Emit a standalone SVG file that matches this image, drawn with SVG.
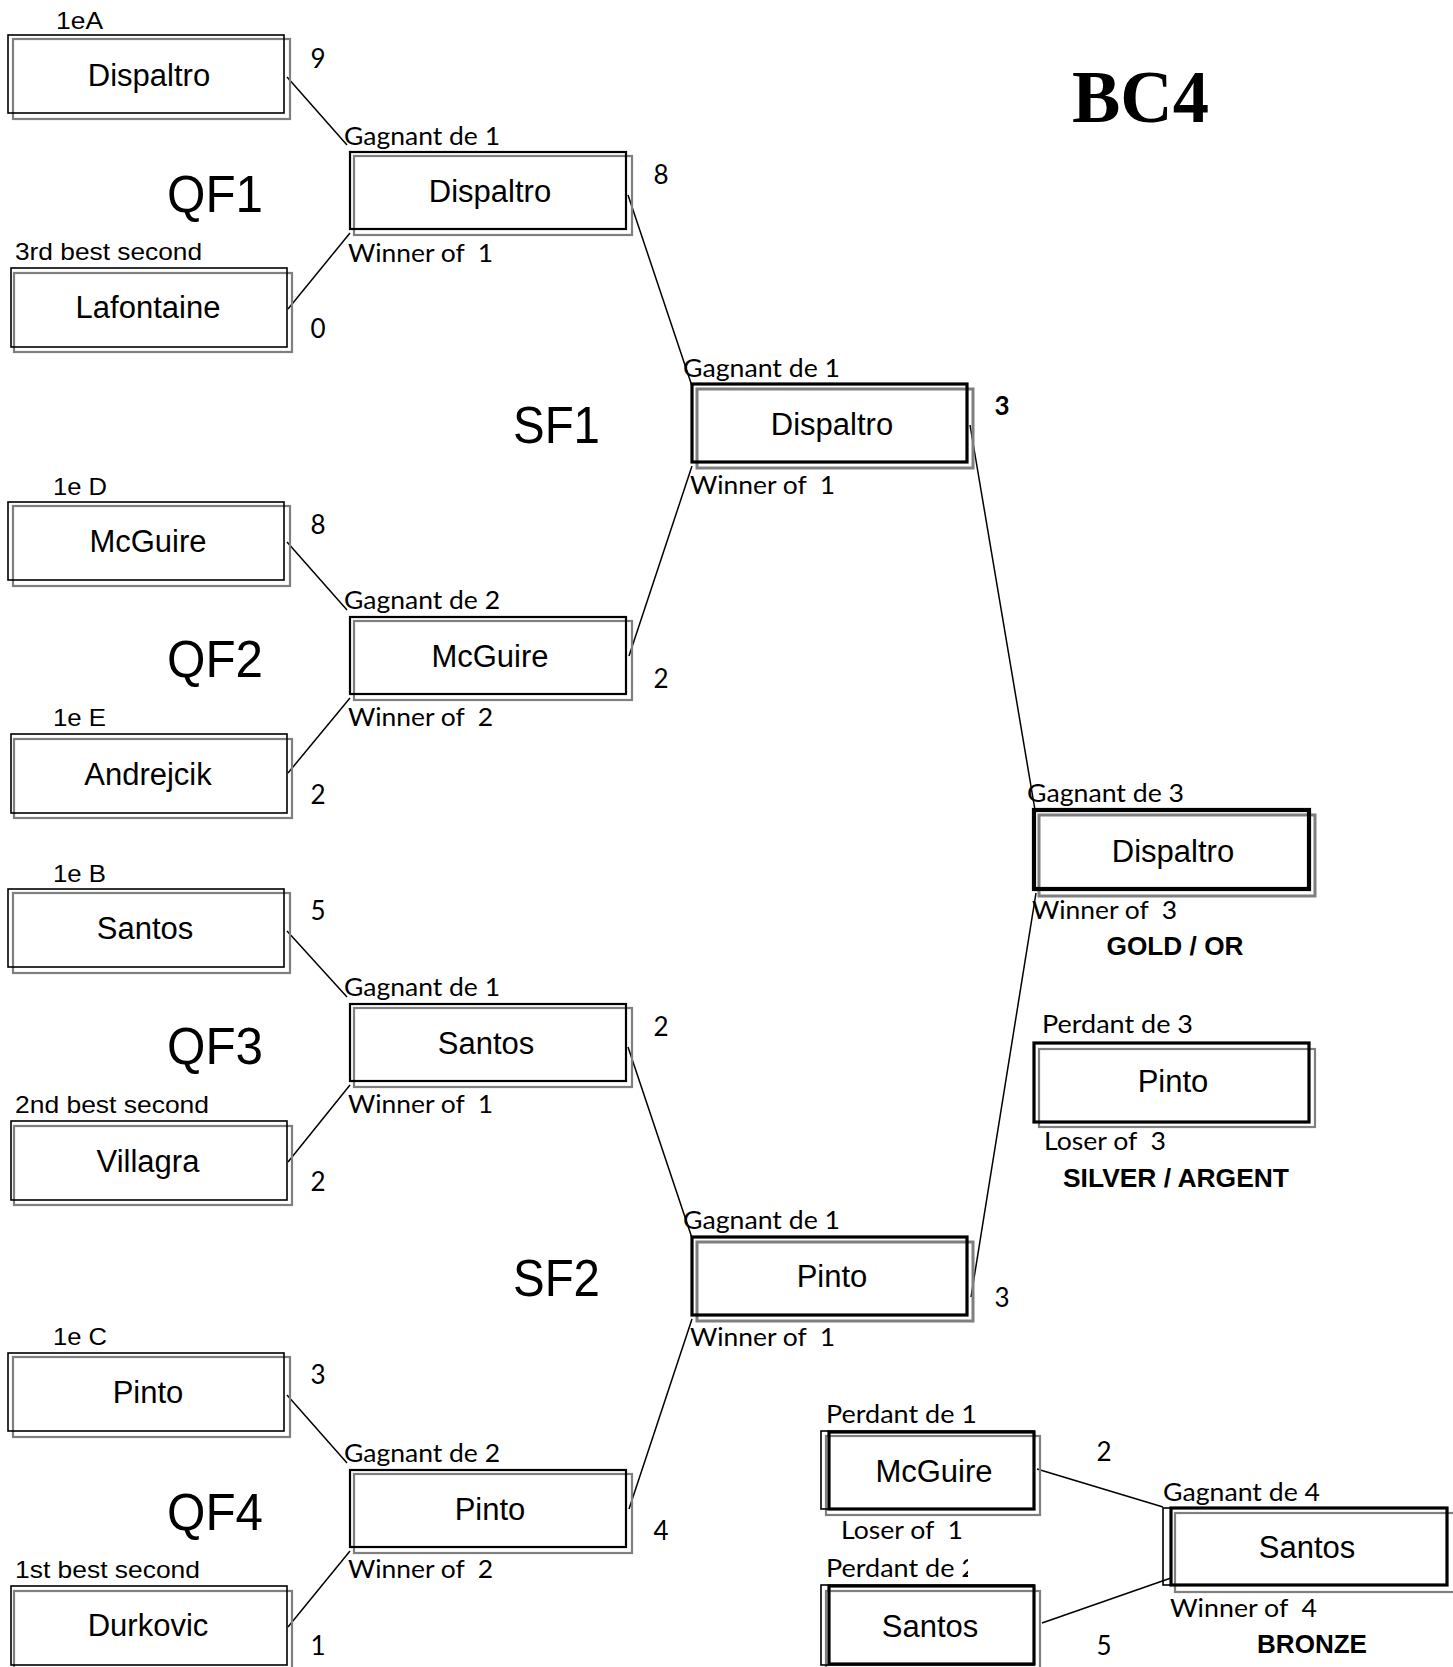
<svg xmlns="http://www.w3.org/2000/svg" width="1453" height="1667" viewBox="0 0 1453 1667">
<style>
.bk{fill:none;stroke:#000;stroke-width:1.6}
.bk2{fill:none;stroke:#000;stroke-width:2.2}
.bk3{fill:none;stroke:#000;stroke-width:3.2}
.bk4{fill:none;stroke:#000;stroke-width:4.2}
.gr{fill:none;stroke:#7f7f7f;stroke-width:2.2}
.gr3{fill:none;stroke:#7f7f7f;stroke-width:3}
.nm{font-family:"Liberation Sans",Arial,sans-serif;font-size:31px;text-anchor:middle;fill:#000}
.lb{font-family:"Liberation Sans",Arial,sans-serif;font-size:24px;fill:#000}
.cl{font-family:Lato,"Open Sans",sans-serif;font-size:25.5px;fill:#000;white-space:pre}
.sc{font-family:Lato,"Open Sans",sans-serif;font-size:26px;text-anchor:middle;fill:#000}
.scb{font-family:Lato,"Open Sans",sans-serif;font-size:26px;font-weight:bold;text-anchor:middle;fill:#000}
.rd{font-family:"Liberation Sans",Arial,sans-serif;font-size:52px;fill:#000}
.md{font-family:"Liberation Sans",Arial,sans-serif;font-size:25.5px;font-weight:bold;text-anchor:middle;fill:#000}
.cn{fill:none;stroke:#000;stroke-width:1.5}
</style>
<defs>
<clipPath id="clipP2"><rect x="800" y="1550" width="168" height="35"/></clipPath>
</defs>
<rect x="0" y="0" width="1453" height="1667" fill="#fff"/>

<text x="1072" y="122" font-family="'Liberation Serif','Times New Roman',serif" font-weight="bold" font-size="75" textLength="137" lengthAdjust="spacingAndGlyphs">BC4</text>

<g id="round-labels">
<text class="rd" x="167" y="212" textLength="96" lengthAdjust="spacingAndGlyphs">QF1</text>
<text class="rd" x="167" y="677" textLength="96" lengthAdjust="spacingAndGlyphs">QF2</text>
<text class="rd" x="167" y="1064" textLength="96" lengthAdjust="spacingAndGlyphs">QF3</text>
<text class="rd" x="167" y="1530" textLength="96" lengthAdjust="spacingAndGlyphs">QF4</text>
<text class="rd" x="513" y="443" textLength="87" lengthAdjust="spacingAndGlyphs">SF1</text>
<text class="rd" x="513" y="1296" textLength="87" lengthAdjust="spacingAndGlyphs">SF2</text>
</g>

<g id="connectors">
<line class="cn" x1="287" y1="77" x2="347" y2="145"/>
<line class="cn" x1="288" y1="309" x2="350" y2="233"/>
<line class="cn" x1="628" y1="195" x2="692" y2="386"/>
<line class="cn" x1="287" y1="542" x2="347" y2="610"/>
<line class="cn" x1="288" y1="773" x2="350" y2="698"/>
<line class="cn" x1="629" y1="656" x2="692" y2="466"/>
<line class="cn" x1="970" y1="425" x2="1035" y2="810"/>
<line class="cn" x1="287" y1="931" x2="347" y2="997"/>
<line class="cn" x1="288" y1="1162" x2="350" y2="1085"/>
<line class="cn" x1="628" y1="1047" x2="692" y2="1238"/>
<line class="cn" x1="287" y1="1395" x2="347" y2="1463"/>
<line class="cn" x1="288" y1="1627" x2="350" y2="1551"/>
<line class="cn" x1="629" y1="1509" x2="692" y2="1319"/>
<line class="cn" x1="971" y1="1297" x2="1036" y2="893"/>
<line class="cn" x1="1037" y1="1469" x2="1163" y2="1507"/>
<line class="cn" x1="1042" y1="1623" x2="1171" y2="1578"/>
</g>

<!-- QF1 -->
<g id="qf1-a">
<rect class="gr" x="13" y="39" width="277" height="80"/>
<rect class="bk" x="8" y="35" width="276" height="78"/>
<text class="lb" x="56" y="29" textLength="47" lengthAdjust="spacingAndGlyphs">1eA</text>
<text class="nm" x="149" y="86">Dispaltro</text>
<text class="sc" x="318" y="68">9</text>
</g>
<g id="qf1-b">
<rect class="gr" x="14" y="273" width="278" height="79"/>
<rect class="bk" x="11" y="268" width="276" height="79"/>
<text class="lb" x="15" y="260" textLength="187" lengthAdjust="spacingAndGlyphs">3rd best second</text>
<text class="nm" x="148" y="318">Lafontaine</text>
<text class="sc" x="318" y="338">0</text>
</g>
<g id="qf1-w">
<rect class="gr" x="354" y="156" width="278" height="79"/>
<rect class="bk2" x="350" y="152" width="276" height="77"/>
<text class="cl" x="344" y="145" textLength="156" lengthAdjust="spacingAndGlyphs">Gagnant de 1</text>
<text class="cl" x="348" y="262" textLength="145" lengthAdjust="spacingAndGlyphs">Winner of  1</text>
<text class="nm" x="490" y="202">Dispaltro</text>
<text class="sc" x="661" y="184">8</text>
</g>

<!-- QF2 -->
<g id="qf2-a">
<rect class="gr" x="13" y="506" width="277" height="80"/>
<rect class="bk" x="8" y="502" width="276" height="78"/>
<text class="lb" x="53" y="495" textLength="54" lengthAdjust="spacingAndGlyphs">1e D</text>
<text class="nm" x="148" y="552">McGuire</text>
<text class="sc" x="318" y="534">8</text>
</g>
<g id="qf2-b">
<rect class="gr" x="14" y="739" width="278" height="79"/>
<rect class="bk" x="11" y="734" width="276" height="79"/>
<text class="lb" x="53" y="726" textLength="53" lengthAdjust="spacingAndGlyphs">1e E</text>
<text class="nm" x="148" y="785">Andrejcik</text>
<text class="sc" x="318" y="804">2</text>
</g>
<g id="qf2-w">
<rect class="gr" x="354" y="621" width="278" height="79"/>
<rect class="bk2" x="350" y="617" width="276" height="77"/>
<text class="cl" x="344" y="609" textLength="156" lengthAdjust="spacingAndGlyphs">Gagnant de 2</text>
<text class="cl" x="348" y="726" textLength="145" lengthAdjust="spacingAndGlyphs">Winner of  2</text>
<text class="nm" x="490" y="667">McGuire</text>
<text class="sc" x="661" y="688">2</text>
</g>

<!-- QF3 -->
<g id="qf3-a">
<rect class="gr" x="13" y="893" width="277" height="80"/>
<rect class="bk" x="8" y="889" width="276" height="78"/>
<text class="lb" x="53" y="882" textLength="53" lengthAdjust="spacingAndGlyphs">1e B</text>
<text class="nm" x="145" y="939">Santos</text>
<text class="sc" x="318" y="920">5</text>
</g>
<g id="qf3-b">
<rect class="gr" x="14" y="1126" width="278" height="79"/>
<rect class="bk" x="11" y="1121" width="276" height="79"/>
<text class="lb" x="15" y="1113" textLength="194" lengthAdjust="spacingAndGlyphs">2nd best second</text>
<text class="nm" x="148" y="1172">Villagra</text>
<text class="sc" x="318" y="1191">2</text>
</g>
<g id="qf3-w">
<rect class="gr" x="354" y="1008" width="278" height="79"/>
<rect class="bk2" x="350" y="1004" width="276" height="77"/>
<text class="cl" x="344" y="996" textLength="156" lengthAdjust="spacingAndGlyphs">Gagnant de 1</text>
<text class="cl" x="348" y="1113" textLength="145" lengthAdjust="spacingAndGlyphs">Winner of  1</text>
<text class="nm" x="486" y="1054">Santos</text>
<text class="sc" x="661" y="1036">2</text>
</g>

<!-- QF4 -->
<g id="qf4-a">
<rect class="gr" x="13" y="1357" width="277" height="80"/>
<rect class="bk" x="8" y="1353" width="276" height="78"/>
<text class="lb" x="53" y="1345" textLength="54" lengthAdjust="spacingAndGlyphs">1e C</text>
<text class="nm" x="148" y="1403">Pinto</text>
<text class="sc" x="318" y="1384">3</text>
</g>
<g id="qf4-b">
<rect class="gr" x="14" y="1591" width="278" height="79"/>
<rect class="bk" x="11" y="1586" width="276" height="79"/>
<text class="lb" x="15" y="1578" textLength="185" lengthAdjust="spacingAndGlyphs">1st best second</text>
<text class="nm" x="148" y="1636">Durkovic</text>
<text class="sc" x="318" y="1655">1</text>
</g>
<g id="qf4-w">
<rect class="gr" x="354" y="1474" width="278" height="79"/>
<rect class="bk2" x="350" y="1470" width="276" height="77"/>
<text class="cl" x="344" y="1462" textLength="156" lengthAdjust="spacingAndGlyphs">Gagnant de 2</text>
<text class="cl" x="348" y="1578" textLength="145" lengthAdjust="spacingAndGlyphs">Winner of  2</text>
<text class="nm" x="490" y="1520">Pinto</text>
<text class="sc" x="661" y="1540">4</text>
</g>

<!-- SF -->
<g id="sf1-w">
<rect class="gr3" x="697" y="389" width="276" height="79"/>
<rect class="bk3" x="692" y="384" width="275" height="78"/>
<text class="cl" x="683" y="377" textLength="157" lengthAdjust="spacingAndGlyphs">Gagnant de 1</text>
<text class="cl" x="690" y="494" textLength="145" lengthAdjust="spacingAndGlyphs">Winner of  1</text>
<text class="nm" x="832" y="435">Dispaltro</text>
<text class="scb" x="1002" y="415">3</text>
</g>
<g id="sf2-w">
<rect class="gr3" x="697" y="1242" width="276" height="79"/>
<rect class="bk3" x="692" y="1237" width="275" height="78"/>
<text class="cl" x="683" y="1229" textLength="157" lengthAdjust="spacingAndGlyphs">Gagnant de 1</text>
<text class="cl" x="690" y="1346" textLength="145" lengthAdjust="spacingAndGlyphs">Winner of  1</text>
<text class="nm" x="832" y="1287">Pinto</text>
<text class="sc" x="1002" y="1307">3</text>
</g>

<!-- Final -->
<g id="final-gold">
<rect class="gr3" x="1039" y="815" width="276" height="81"/>
<rect class="bk4" x="1034" y="810" width="275" height="79"/>
<text class="cl" x="1027" y="802" textLength="157" lengthAdjust="spacingAndGlyphs">Gagnant de 3</text>
<text class="cl" x="1032" y="919" textLength="145" lengthAdjust="spacingAndGlyphs">Winner of  3</text>
<text class="nm" x="1173" y="862">Dispaltro</text>
<text class="md" x="1175" y="955" textLength="137" lengthAdjust="spacingAndGlyphs">GOLD / OR</text>
</g>
<g id="final-silver">
<rect class="gr" x="1039" y="1049" width="276" height="78"/>
<rect class="bk3" x="1034" y="1043" width="275" height="79"/>
<text class="cl" x="1042" y="1033" textLength="151" lengthAdjust="spacingAndGlyphs">Perdant de 3</text>
<text class="cl" x="1044" y="1150" textLength="122" lengthAdjust="spacingAndGlyphs">Loser of  3</text>
<text class="nm" x="1173" y="1092">Pinto</text>
<text class="md" x="1176" y="1187" textLength="226" lengthAdjust="spacingAndGlyphs">SILVER / ARGENT</text>
</g>

<!-- Bronze -->
<g id="bronze-a">
<rect class="gr" x="826" y="1436" width="214" height="79"/>
<rect class="bk" x="821" y="1431" width="213" height="78"/>
<rect class="bk3" x="829" y="1432" width="205" height="77"/>
<text class="cl" x="826" y="1423" textLength="151" lengthAdjust="spacingAndGlyphs">Perdant de 1</text>
<text class="cl" x="841" y="1539" textLength="122" lengthAdjust="spacingAndGlyphs">Loser of  1</text>
<text class="nm" x="934" y="1482">McGuire</text>
<text class="sc" x="1104" y="1461">2</text>
</g>
<g id="bronze-b">
<rect class="gr" x="826" y="1591" width="214" height="79"/>
<rect class="bk" x="821" y="1585" width="213" height="80"/>
<rect class="bk3" x="829" y="1586" width="205" height="78"/>
<text class="cl" x="826" y="1577" textLength="151" lengthAdjust="spacingAndGlyphs" clip-path="url(#clipP2)">Perdant de 2</text>
<text class="nm" x="930" y="1637">Santos</text>
<text class="sc" x="1104" y="1655">5</text>
</g>
<g id="bronze-w">
<rect class="gr" x="1175" y="1513" width="290" height="79"/>
<rect class="bk" x="1163" y="1508" width="284" height="77"/>
<rect class="bk3" x="1171" y="1508" width="276" height="77"/>
<text class="cl" x="1163" y="1501" textLength="157" lengthAdjust="spacingAndGlyphs">Gagnant de 4</text>
<text class="cl" x="1170" y="1617" textLength="147" lengthAdjust="spacingAndGlyphs">Winner of  4</text>
<text class="nm" x="1307" y="1558">Santos</text>
<text class="md" x="1312" y="1653" textLength="110" lengthAdjust="spacingAndGlyphs">BRONZE</text>
</g>
</svg>
